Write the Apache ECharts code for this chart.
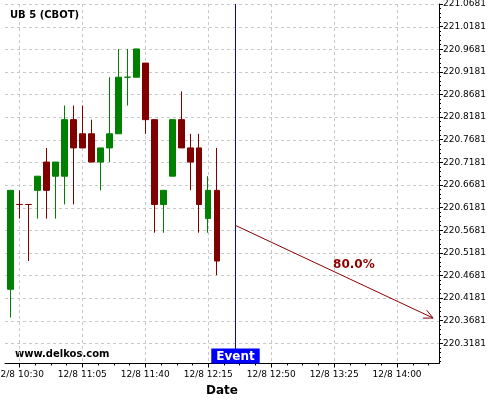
<!DOCTYPE html>
<html><head><meta charset="utf-8">
<script src="https://cdn.jsdelivr.net/npm/echarts@6/dist/echarts.min.js"></script>
<style>html,body{margin:0;padding:0;background:#fff}#c{width:500px;height:400px}</style>
</head><body><div id="c"></div>
<script>
// ---- data ----
const times  = ['10:25','10:30','10:35','10:40','10:45','10:50','10:55','11:00','11:05','11:10','11:15','11:20',
                '11:25','11:30','11:35','11:40','11:45','11:50','11:55','12:00','12:05','12:10','12:15','12:20'];
const opens  = [220.4375,220.625,220.625,220.65625,220.71875,220.6875,220.6875,220.8125,220.78125,220.78125,220.71875,220.75,
                220.78125,220.90625,220.90625,220.9375,220.8125,220.625,220.6875,220.8125,220.75,220.75,220.59375,220.65625];
const closes = [220.65625,220.625,220.625,220.6875,220.65625,220.71875,220.8125,220.75,220.75,220.71875,220.75,220.78125,
                220.90625,220.90625,220.96875,220.8125,220.625,220.65625,220.8125,220.75,220.71875,220.625,220.65625,220.5];
const lows   = [220.375,220.59375,220.5,220.59375,220.59375,220.59375,220.625,220.625,220.75,220.71875,220.65625,220.71875,
                220.78125,220.84375,220.90625,220.78125,220.5625,220.5625,220.6875,220.75,220.65625,220.5625,220.5625,220.46875];
const highs  = [220.65625,220.65625,220.625,220.6875,220.75,220.71875,220.84375,220.84375,220.84375,220.8125,220.75,220.90625,
                220.96875,220.96875,220.96875,220.9375,220.8125,220.65625,220.8125,220.875,220.78125,220.78125,220.6875,220.75];
const direction = [1,-1,-1,1,-1,1,1,-1,-1,-1,1,1,1,1,1,-1,-1,1,1,-1,-1,-1,1,-1]; // 1 = up candle, -1 = down candle
const xTickTimes = ['10:30','11:05','11:40','12:15','12:50','13:25','14:00'];
const yTickLabels = ['220.3181','220.3681','220.4181','220.4681','220.5181','220.5681','220.6181','220.6681',
                     '220.7181','220.7681','220.8181','220.8681','220.9181','220.9681','221.0181','221.0681'];
const yAxisBottom = 220.2735;   // value at the bottom edge of the plot
const eventTime = '12:30';
const arrowStart = ['12:30', 220.579];
const arrowEnd   = ['14:20', 220.374];
const arrowText  = '80.0%';
const title = 'UB 5 (CBOT)';
const watermark = 'www.delkos.com';
const xName = 'Date';
const dateText = '12/8';

// ---- helpers ----
const toMin = t => { const [h, m] = t.split(':').map(Number); return h * 60 + m; };
const pad = n => (n < 10 ? '0' : '') + n;
const fmtMin = v => dateText + ' ' + pad(Math.floor(v / 60)) + ':' + pad(Math.round(v % 60));
const UP = '#008000', DOWN = '#800000', FONT = 'DejaVu Sans', GRID = '#c8c8c8';

const yMajor = yTickLabels.map(parseFloat);
const yStep = +(yMajor[1] - yMajor[0]).toFixed(4);
const yMin = yAxisBottom;
const yMax = yMajor[yMajor.length - 1];
const yMinor = [];
for (let k = -5; k <= (yMajor.length - 1) * 5; k++) {
  if (k % 5 === 0) continue;
  const v = +(yMajor[0] + k * yStep / 5).toFixed(5);
  if (v > yMin && v < yMax) yMinor.push(v);
}
const xMajor = xTickTimes.map(toMin);
const xStep = xMajor[1] - xMajor[0];
const xMin = toMin(times[0]) - 3;
const xMax = toMin(arrowEnd[0]) + 3.3;
const xMinor = [];
for (let v = xMajor[0] - xStep; v <= xMax; v += xStep / 4) {
  if (v >= xMin && !xMajor.includes(v)) xMinor.push(v);
}

const candleData = times.map((t, i) => {
  const c = direction[i] > 0 ? UP : DOWN;
  return { value: [toMin(t), opens[i], closes[i], lows[i], highs[i]],
           itemStyle: { color: c, color0: c, borderColor: c, borderColor0: c } };
});

const chart = echarts.init(document.getElementById('c'), null, { renderer: 'canvas' });
chart.setOption({
  animation: false,
  backgroundColor: '#fff',
  title: { text: title, left: 10, top: 10, padding: 0,
           textStyle: { fontFamily: FONT, fontSize: 10, fontWeight: 'bold', color: '#000' } },
  graphic: [{ type: 'text', left: 15, top: 349,
              style: { text: watermark, font: 'bold 10px "DejaVu Sans"', fill: '#000' } }],
  grid: { left: 5, right: 61, top: 4, bottom: 36.5, containLabel: false, outerBoundsMode: 'none' },
  xAxis: [{
    type: 'value', min: xMin, max: xMax, interval: xStep,
    name: xName, nameLocation: 'middle', nameGap: 18,
    nameTextStyle: { fontFamily: FONT, fontSize: 12, fontWeight: 'bold', color: '#000' },
    axisLine: { show: true, onZero: false, lineStyle: { color: '#000', width: 1 } },
    axisTick: { show: true, length: 4, customValues: xMajor, lineStyle: { color: '#000' } },
    axisLabel: { customValues: xMajor, margin: 7, fontFamily: FONT, fontSize: 9, color: '#000',
                 hideOverlap: false, formatter: v => fmtMin(v) },
    splitLine: { show: false }
  }, {
    type: 'value', min: xMin, max: xMax, interval: xStep, position: 'bottom', offset: 0,
    axisLine: { show: false, onZero: false },
    axisTick: { show: true, length: 2, customValues: xMinor, lineStyle: { color: '#000' } },
    axisLabel: { show: false },
    splitLine: { show: false }
  }],
  yAxis: [{
    type: 'value', position: 'right', min: yMin, max: yMax,
    axisLine: { show: true, onZero: false, lineStyle: { color: '#000', width: 1 } },
    axisTick: { show: true, length: 4, customValues: yMajor, lineStyle: { color: '#000' } },
    axisLabel: { customValues: yMajor, margin: 4, fontFamily: FONT, fontSize: 9, color: '#000',
                 hideOverlap: false, formatter: v => v.toFixed(4) },
    splitLine: { show: false }
  }, {
    type: 'value', position: 'right', offset: 0, min: yMin, max: yMax,
    axisLine: { show: false, onZero: false },
    axisTick: { show: true, length: 2, customValues: yMinor, lineStyle: { color: '#000' } },
    axisLabel: { show: false },
    splitLine: { show: false }
  }],
  series: [
    { type: 'custom', data: xMajor.map(v => [v, yMax]), z: 1, silent: true,
      renderItem: (params, api) => {
        const cs = params.coordSys;
        const x = Math.round(api.coord([api.value(0), api.value(1)])[0]) + 0.5;
        return { type: 'line', shape: { x1: x, y1: cs.y, x2: x, y2: cs.y + cs.height },
                 style: { stroke: GRID, lineWidth: 1, lineDash: [3, 3] } };
      } },
    { type: 'custom', data: yMajor.map(v => [xMin, v]), z: 1, silent: true,
      renderItem: (params, api) => {
        const cs = params.coordSys;
        const y = Math.round(api.coord([api.value(0), api.value(1)])[1]) + 0.5;
        return { type: 'line', shape: { x1: cs.x, y1: y, x2: cs.x + cs.width, y2: y },
                 style: { stroke: GRID, lineWidth: 1, lineDash: [3, 3] } };
      } },
    { type: 'candlestick', data: candleData, barWidth: 6, encode: { x: 0, y: [1, 2, 3, 4] }, z: 2,
      itemStyle: { borderWidth: 1 } },
    { type: 'custom', data: [[toMin(eventTime), yMax]], clip: false, z: 5,
      renderItem: (params, api) => {
        const cs = params.coordSys;
        const p = api.coord([api.value(0), api.value(1)]);
        const x = Math.round(p[0]) + 0.5;
        return { type: 'group', children: [
          { type: 'line', shape: { x1: x, y1: cs.y, x2: x, y2: cs.y + cs.height },
            style: { stroke: '#0000ff', lineWidth: 1 } },
          { type: 'text', x: x, y: cs.y + cs.height,
            style: { text: 'Event', fill: '#fff', font: 'bold 12px "DejaVu Sans"', align: 'center',
                     verticalAlign: 'bottom', backgroundColor: '#0000ff', padding: [2, 5, 1, 5] } }
        ] };
      } },
    { type: 'custom', data: [[toMin(arrowStart[0]), arrowStart[1], toMin(arrowEnd[0]), arrowEnd[1]]], clip: false, z: 6,
      renderItem: (params, api) => {
        const a = api.coord([api.value(0), api.value(1)]);
        const b = api.coord([api.value(2), api.value(3)]);
        const ang = Math.atan2(b[1] - a[1], b[0] - a[0]);
        const L = 10, spread = 0.45;
        const h1 = [b[0] - L * Math.cos(ang - spread), b[1] - L * Math.sin(ang - spread)];
        const h2 = [b[0] - L * Math.cos(ang + spread), b[1] - L * Math.sin(ang + spread)];
        const t = 0.6;
        const tx = a[0] + t * (b[0] - a[0]), ty = a[1] + t * (b[1] - a[1]) - 16;
        return { type: 'group', children: [
          { type: 'line', shape: { x1: a[0], y1: a[1], x2: b[0], y2: b[1] },
            style: { stroke: '#8b0000', lineWidth: 1 } },
          { type: 'polyline', shape: { points: [h1, b, h2] },
            style: { stroke: '#8b0000', lineWidth: 1, fill: null } },
          { type: 'text', x: tx, y: ty,
            style: { text: arrowText, fill: '#8b0000', font: 'bold 12px "DejaVu Sans"', align: 'center', verticalAlign: 'middle' } }
        ] };
      } }
  ]
});
</script></body></html>
